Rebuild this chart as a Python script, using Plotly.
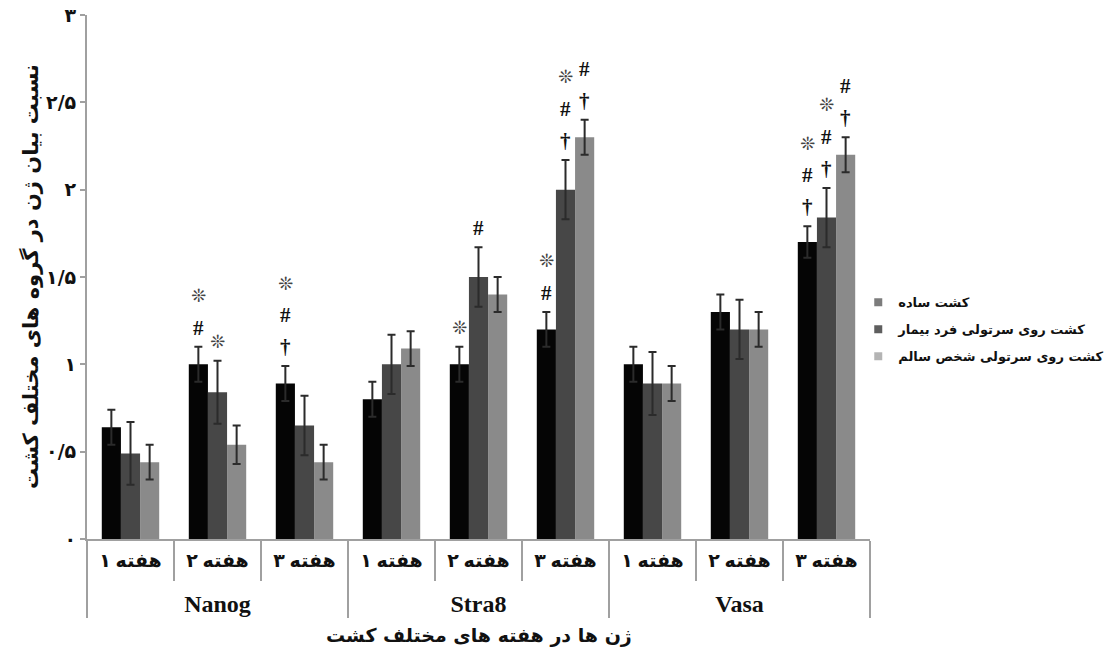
import plotly.graph_objects as go

# ---------------- data ----------------
genes = ["Nanog", "Nanog", "Nanog", "Stra8", "Stra8", "Stra8", "Vasa", "Vasa", "Vasa"]
weeks = ["هفته ۱", "هفته ۲", "هفته ۳"] * 3

series_names = ["کشت ساده", "کشت روی سرتولی فرد بیمار", "کشت روی سرتولی شخص سالم"]

simple = [0.64, 1.00, 0.89, 0.80, 1.00, 1.20, 1.00, 1.30, 1.70]
simple_err = [0.10, 0.10, 0.10, 0.10, 0.10, 0.10, 0.10, 0.10, 0.09]
patient = [0.49, 0.84, 0.65, 1.00, 1.50, 2.00, 0.89, 1.20, 1.84]
patient_err = [0.18, 0.18, 0.17, 0.17, 0.17, 0.17, 0.18, 0.17, 0.17]
healthy = [0.44, 0.54, 0.44, 1.09, 1.40, 2.30, 0.89, 1.20, 2.20]
healthy_err = [0.10, 0.11, 0.10, 0.10, 0.10, 0.10, 0.10, 0.10, 0.10]

# significance marks, listed bottom-to-top for each bar
simple_marks = ["", "#❊", "†#❊", "", "❊", "#❊", "", "", "†#❊"]
patient_marks = ["", "❊", "", "", "#", "†#❊", "", "", "†#❊"]
healthy_marks = ["", "", "", "", "", "†#", "", "", "†#"]

y_tickvals = [0, 0.5, 1, 1.5, 2, 2.5, 3]
y_ticktext = ["۰", "۰/۵", "۱", "۱/۵", "۲", "۲/۵", "۳"]

y_title = "نسبت بیان ژن در گروه های مختلف کشت"
x_title = "ژن ها در هفته های مختلف کشت"

# ---------------- styles ----------------
bar_colors = ["#050505", "#474747", "#8a8a8a"]
legend_colors = ["#7c7c7c", "#5e5e5e", "#b4b4b4"]
BARGAP = 0.34
FONT_AR = "DejaVu Sans"
FONT_MIX = "Liberation Serif, DejaVu Sans"

# inner labels get an empty second line so the outer (gene) row sits lower
week_labels = [w + "<br> " for w in weeks]
gene_labels = [f"<span style='font-size:24px'>{g}</span>" for g in genes]

fig = go.Figure()

values = [simple, patient, healthy]
errors = [simple_err, patient_err, healthy_err]
marks = [simple_marks, patient_marks, healthy_marks]

for k in range(3):
    fig.add_trace(go.Bar(
        x=[gene_labels, week_labels], y=values[k],
        marker=dict(color=bar_colors[k], line=dict(width=0)),
        error_y=dict(type="data", array=errors[k], visible=True,
                     color="#2b2b2b", thickness=2, width=4),
        showlegend=False, name=series_names[k], hoverinfo="skip",
    ))

# legend entries (small square markers)
for k in range(3):
    fig.add_trace(go.Scatter(
        x=[None], y=[None], xaxis="x2", mode="markers",
        marker=dict(symbol="square", size=8, color=legend_colors[k]),
        name=series_names[k], legendgroup=f"g{k}", showlegend=True,
    ))

# significance annotations
bw = (1 - BARGAP) / 3
for k in range(3):
    for i in range(len(genes)):
        s = marks[k][i]
        top = values[k][i] + errors[k][i]
        xpos = i + (k - 1) * bw
        for j, ch in enumerate(s):
            is_star = ch == "❊"
            fig.add_annotation(
                x=xpos, y=top, xref="x2", yref="y",
                text=ch, showarrow=False,
                yshift=19 + 32 * j, yanchor="middle",
                font=dict(family=FONT_AR if is_star else "Liberation Serif",
                          size=18 if is_star else 21,
                          color="#444444" if is_star else "#111111",
                          weight="normal" if is_star else "bold"),
            )

# axis titles
fig.add_annotation(
    x=0, y=0.5, xref="paper", yref="paper", xshift=-57,
    text=y_title, textangle=-90, showarrow=False,
    xanchor="center", yanchor="middle",
    font=dict(family=FONT_AR, size=21, color="#111111", weight="bold"),
)
fig.add_annotation(
    x=0.5, y=0, xref="paper", yref="paper", yshift=-96,
    text=x_title, showarrow=False,
    xanchor="center", yanchor="middle",
    font=dict(family=FONT_AR, size=19, color="#111111", weight="bold"),
)

fig.update_layout(
    width=1117, height=653,
    margin=dict(l=87, r=247, t=15, b=114, autoexpand=False),
    paper_bgcolor="white", plot_bgcolor="white",
    barmode="group", bargap=BARGAP, bargroupgap=0,
    showlegend=True,
    legend=dict(x=0.985, xanchor="left", y=0.40, yanchor="middle",
                font=dict(family=FONT_AR, size=13, color="#111111", weight="bold"),
                tracegroupgap=7, traceorder="grouped",
                bgcolor="rgba(0,0,0,0)"),
    xaxis=dict(
        type="multicategory", range=[-0.5, 8.5], automargin=False,
        showline=True, linecolor="#a0a0a0", linewidth=2,
        ticks="outside", tickson="boundaries", ticklen=40,
        tickcolor="#a0a0a0", tickwidth=2, ticklabelstandoff=3,
        showdividers=True, dividercolor="#a0a0a0", dividerwidth=2,
        tickfont=dict(family=FONT_MIX, size=19, color="#111111", weight="bold"),
        showgrid=False, zeroline=False,
    ),
    xaxis2=dict(overlaying="x", range=[-0.5, 8.5], visible=False, showgrid=False),
    yaxis=dict(
        range=[0, 3], tickvals=y_tickvals, ticktext=y_ticktext, automargin=False,
        showline=True, linecolor="#a0a0a0", linewidth=2,
        ticks="outside", ticklen=5, tickcolor="#a0a0a0", tickwidth=2,
        showgrid=False, zeroline=False,
        tickfont=dict(family=FONT_AR, size=19, color="#111111", weight="bold"),
    ),
)

fig.write_html(
    "out.html",
    config={"displayModeBar": False},
    post_script="document.body.style.margin='0';document.body.style.overflow='hidden';",
)
